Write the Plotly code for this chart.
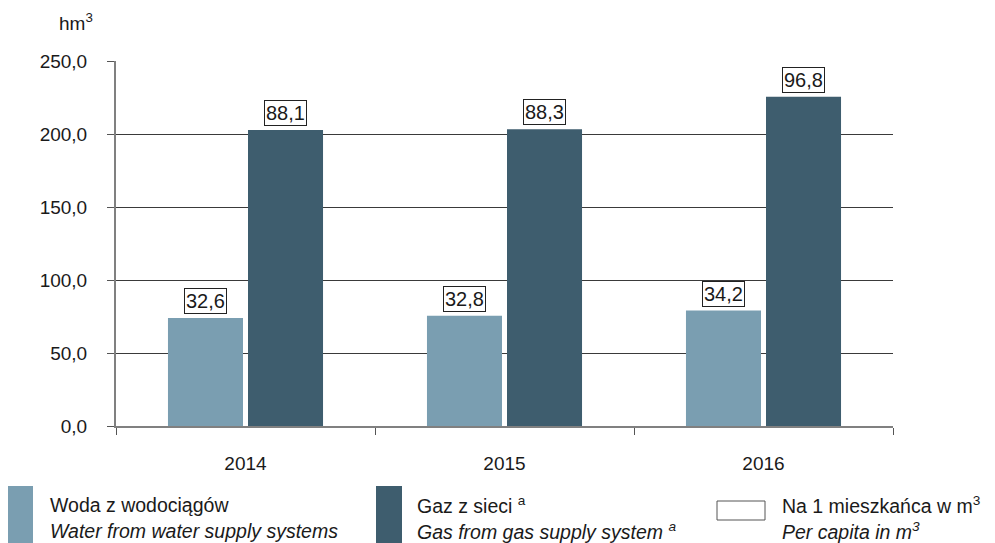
import plotly.graph_objects as go

# dane (hm3) i wartości na 1 mieszkańca (m3)
years = ["2014", "2015", "2016"]
water = [74.0, 75.5, 79.1]
gas = [202.7, 203.2, 225.5]
water_pc = ["32,6", "32,8", "34,2"]
gas_pc = ["88,1", "88,3", "96,8"]

WATER_COLOR = "#7A9EB1"
GAS_COLOR = "#3E5D6E"
TEXT = "#1a1a1a"
FONT = "Liberation Sans, Arial, sans-serif"

# strona ma 8 px marginesu body -> kompensacja
OFF = 8
W, H = 995, 543
PLOT_L, PLOT_T, PLOT_W, PLOT_H = 116, 61, 777, 365
L, T = PLOT_L - OFF, PLOT_T - OFF
R, B = W - L - PLOT_W, H - T - PLOT_H


def px(x):
    # piksel ekranu -> współrzędna paper (poziomo)
    return (x - PLOT_L) / PLOT_W


def py(y):
    # piksel ekranu -> współrzędna paper (pionowo)
    return (PLOT_T + PLOT_H - y) / PLOT_H


fig = go.Figure()
fig.add_trace(go.Bar(x=years, y=water, name="water", marker_color=WATER_COLOR,
                     marker_line_width=0, showlegend=False))
fig.add_trace(go.Bar(x=years, y=gas, name="gas", marker_color=GAS_COLOR,
                     marker_line_width=0, showlegend=False))

# etykiety w ramkach (na 1 mieszkańca); x = indeks kategorii
box_font = dict(size=20, color=TEXT, family=FONT)
for i, (v, lab) in enumerate(zip(water, water_pc)):
    fig.add_annotation(x=i, y=v, text=lab, showarrow=False, xshift=-40, yshift=4,
                       xanchor="center", yanchor="bottom", bordercolor="#222", borderwidth=1,
                       borderpad=1, bgcolor="white", font=box_font)
for i, (v, lab) in enumerate(zip(gas, gas_pc)):
    fig.add_annotation(x=i, y=v, text=lab, showarrow=False, xshift=40, yshift=4,
                       xanchor="center", yanchor="bottom", bordercolor="#222", borderwidth=1,
                       borderpad=1, bgcolor="white", font=box_font)

# jednostka
fig.add_annotation(x=px(57), y=py(22), xref="paper", yref="paper", text="hm<sup>3</sup>",
                   showarrow=False, xanchor="left", yanchor="middle",
                   font=dict(size=19, color=TEXT, family=FONT))

# legenda (ręcznie)
fig.add_shape(type="rect", xref="paper", yref="paper", x0=px(7), x1=px(33), y0=py(486), y1=py(552),
              fillcolor=WATER_COLOR, line_width=0)
fig.add_shape(type="rect", xref="paper", yref="paper", x0=px(376), x1=px(402), y0=py(486), y1=py(552),
              fillcolor=GAS_COLOR, line_width=0)
fig.add_shape(type="rect", xref="paper", yref="paper", x0=px(717), x1=px(765), y0=py(501), y1=py(520),
              fillcolor="white", line=dict(color="#555", width=1))

legend_items = [
    (48, "Woda z wodociągów", "<i>Water from water supply systems</i>"),
    (415, "Gaz z sieci <sup>a</sup>", "<i>Gas from gas supply system <sup>a</sup></i>"),
    (780, "Na 1 mieszkańca w m<sup>3</sup>", "<i>Per capita in m<sup>3</sup></i>"),
]
leg_font = dict(size=19.5, color=TEXT, family=FONT)
for x0, l1, l2 in legend_items:
    fig.add_annotation(x=px(x0), y=py(505), xref="paper", yref="paper", text=l1, showarrow=False,
                       xanchor="left", yanchor="middle", font=leg_font)
    fig.add_annotation(x=px(x0), y=py(531), xref="paper", yref="paper", text=l2, showarrow=False,
                       xanchor="left", yanchor="middle", font=leg_font)

fig.update_layout(
    width=W, height=H,
    margin=dict(l=L, r=R, t=T, b=B),
    barmode="group",
    bargap=0.382,
    bargroupgap=0.0625,
    plot_bgcolor="white",
    paper_bgcolor="white",
    separators=", ",
    font=dict(family=FONT, size=19, color=TEXT),
    showlegend=False,
    xaxis=dict(
        type="category",
        range=[-0.5, 2.5],
        tickson="boundaries",
        ticks="outside", ticklen=7, tickcolor="#555", tickwidth=1,
        showline=True, linecolor="#808080", linewidth=2,
        showgrid=False,
        tickfont=dict(size=19, color=TEXT),
        ticklabelstandoff=19,
    ),
    yaxis=dict(
        range=[0, 250], dtick=50, tickformat=".1f",
        ticks="outside", ticklen=7, tickcolor="#555",
        showline=True, linecolor="#808080", linewidth=2,
        showgrid=True, gridcolor="#3a3a3a", gridwidth=1,
        zeroline=False,
        tickfont=dict(size=19, color=TEXT),
        ticklabelstandoff=16,
    ),
)

fig.write_html("out.html")
